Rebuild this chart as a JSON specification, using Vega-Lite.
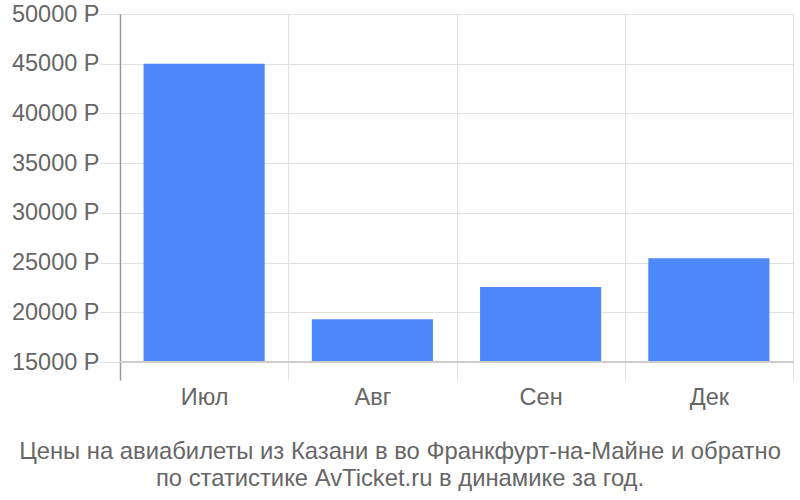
{
  "$schema": "https://vega.github.io/schema/vega-lite/v6.json",
  "autosize": "none",
  "width": 673,
  "height": 366,
  "padding": {"left": 120, "top": 14, "right": 7, "bottom": 120},
  "config": {
    "font": "Liberation Sans",
    "view": {"stroke": null},
    "axis": {"labelFont": "Liberation Sans", "labelFontSize": 23.5, "labelColor": "#666666"}
  },
  "title": {
    "text": ["Цены на авиабилеты из Казани в во Франкфурт-на-Майне и обратно", "по статистике AvTicket.ru в динамике за год."],
    "orient": "bottom",
    "anchor": "middle",
    "font": "Liberation Sans",
    "fontSize": 23.8,
    "fontWeight": "normal",
    "color": "#666666",
    "lineHeight": 27.5,
    "offset": 31,
    "dx": -56.5
  },
  "data": {
    "values": [
      {"month": "Июл", "price": 45000},
      {"month": "Авг", "price": 19300},
      {"month": "Сен", "price": 22550},
      {"month": "Дек", "price": 25440}
    ]
  },
  "layer": [
    {
      "mark": {"type": "bar", "color": "#4d89f9", "width": {"band": 0.72}},
      "encoding": {
        "x": {
          "field": "month",
          "type": "nominal",
          "sort": null,
          "scale": {"paddingInner": 0, "paddingOuter": 0},
          "axis": {
            "title": null,
            "labelAngle": 0,
            "tickBand": "extent",
            "grid": true,
            "gridColor": "#e0e0e0",
            "ticks": false,
            "domain": false,
            "labelPadding": 5
          }
        },
        "y": {
          "field": "price",
          "type": "quantitative",
          "scale": {"domain": [13190, 50000], "nice": false, "zero": false},
          "axis": {
            "title": null,
            "values": [15000, 20000, 25000, 30000, 35000, 40000, 45000, 50000],
            "labelExpr": "datum.value + ' Р'",
            "grid": true,
            "gridColor": "#e0e0e0",
            "tickSize": 20,
            "tickColor": "#e0e0e0",
            "labelPadding": 1,
            "domainColor": "#999999",
            "domainWidth": 1.5
          }
        },
        "y2": {"datum": 15000}
      }
    },
    {
      "mark": {"type": "rule", "color": "#cccccc", "strokeWidth": 1.5},
      "encoding": {
        "y": {"datum": 15000, "type": "quantitative"}
      }
    }
  ]
}
